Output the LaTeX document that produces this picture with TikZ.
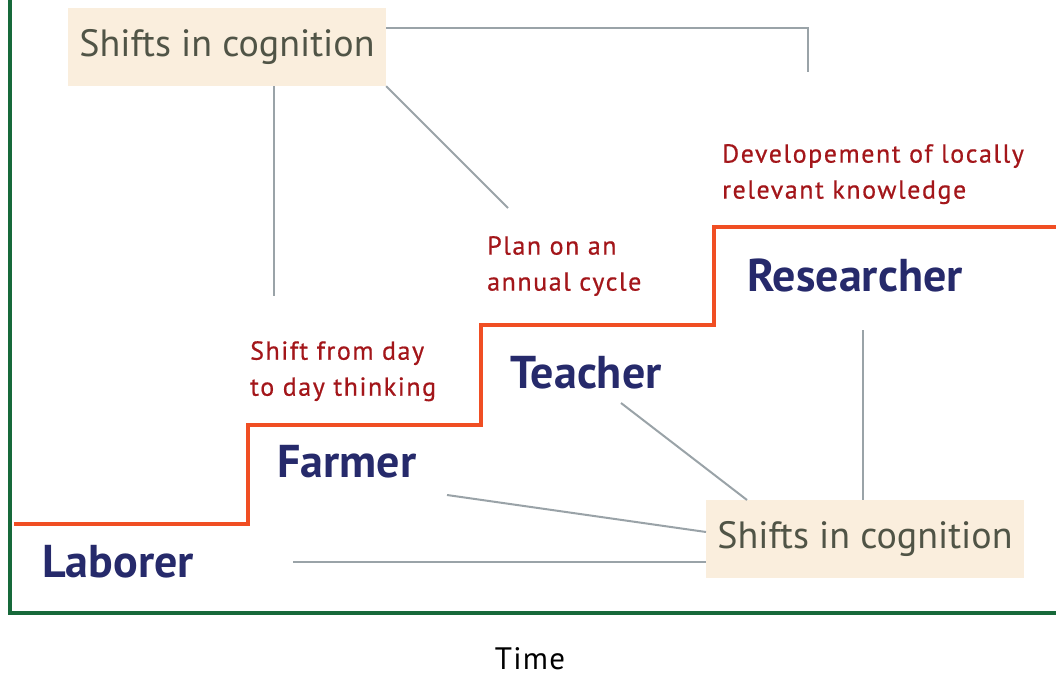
\documentclass[tikz,border=0pt]{standalone}
\usepackage{fontspec}
\setmainfont{PT Sans}
\usetikzlibrary{positioning}

\definecolor{axisgreen}{HTML}{17693A}
\definecolor{stairorange}{HTML}{F04E23}
\definecolor{linkgray}{HTML}{9AA3A8}
\definecolor{boxbeige}{HTML}{FAEEDD}
\definecolor{boxtext}{HTML}{505446}
\definecolor{rolenavy}{HTML}{262A6B}
\definecolor{notered}{HTML}{A3161A}

\begin{document}
\begin{tikzpicture}[
        x=1pt, y=-1pt,
        shiftbox/.style={rectangle, fill=boxbeige, text=boxtext, minimum width=318pt, minimum height=78pt, inner sep=0pt, font=\fontsize{38}{44}\selectfont},
        role/.style={text=rolenavy, font=\bfseries\fontsize{46}{52}\selectfont},
        note/.style={text=notered, align=left, anchor=north west, inner sep=0pt, font=\fontsize{26}{36}\selectfont\addfontfeatures{LetterSpace=6,FakeBold=0.6}},
        link/.style={draw=linkgray, line width=2pt},
        stair/.style={draw=stairorange, line width=4.5pt},
        axis/.style={draw=axisgreen, line width=4.5pt}
    ]
    \useasboundingbox (0,0) rectangle (1056,676);

    % Axes
    \coordinate (O) at (10,613);
    \draw[axis] (10,0) -- (O) -- (1056,613);
    \node[inner sep=0pt, anchor=base] (time) at (530,669) {\fontsize{31}{36}\selectfont\addfontfeatures{LetterSpace=4}Time};

    % Staircase
    \draw[stair] (14,524) -- (248,524) -- (248,425) -- (481,425) -- (481,325) -- (714,325) -- (714,227) -- (1056,227);

    % Roles
    \node[role] (laborer) at (118,562) {Laborer};
    \node[role] (farmer) at (347,462) {Farmer};
    \node[role] (teacher) at (586,373) {Teacher};
    \node[role] (researcher) at (855,275) {Researcher};

    % Shifts
    \node[note] (dayshift) at (250,341) {Shift from day\\to day thinking};
    \node[note] (annual) at (487,236) {Plan on an\\annual cycle};
    \node[note] (local) at (722,144) {Developement of locally\\relevant knowledge};

    % Boxes
    \node[shiftbox] (topbox) at (227,47) {Shifts in cognition};
    \node[shiftbox] (botbox) at (865,539) {Shifts in cognition};

    % Top links
    \coordinate (t1) at (808,72);
    \coordinate (t2) at (274,296);
    \coordinate (t3) at (508,208);
    \draw[link] (topbox.east |- 0,28) -| (t1);
    \draw[link] (topbox.south -| t2) -- (t2);
    \draw[link] (topbox.south east) -- (t3);

    % Bottom links
    \coordinate (b1) at (293,562);
    \coordinate (b2) at (447,495);
    \coordinate (b3) at (621,403);
    \coordinate (b4) at (863,330);
    \draw[link] (b1) -- (botbox.west |- b1);
    \draw[link] (b2) -- (706,532);
    \draw[link] (b3) -- (747,500);
    \draw[link] (b4) -- (botbox.north -| b4);
\end{tikzpicture}
\end{document}
